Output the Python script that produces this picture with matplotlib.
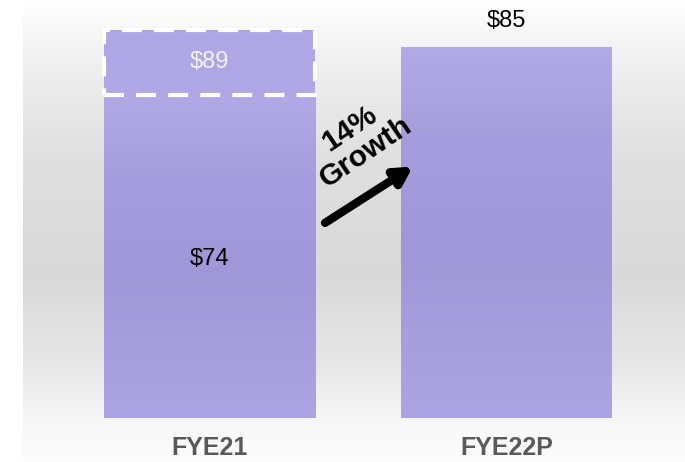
import matplotlib.pyplot as plt
import numpy as np
from matplotlib.colors import LinearSegmentedColormap
from matplotlib.patches import Rectangle

# data
categories = ["FYE21", "FYE22P"]
values = [74, 85]
stretch_value = 89
value_labels = ["$74", "$85"]
stretch_label = "$89"
growth_label = "14%\nGrowth"

plt.rcParams['font.family'] = ['Liberation Sans', 'DejaVu Sans']

fig = plt.figure(figsize=(6.85, 4.62), dpi=100)

# grey gradient backdrop
bg = fig.add_axes([23 / 685, 0, 1 - 23 / 685, 1])
bg.axis("off")
bg_cmap = LinearSegmentedColormap.from_list("bg", [
    (0.0, "#ffffff"), (0.12, "#f1f1f1"), (0.35, "#dfdfdf"),
    (0.6, "#d9d9d9"), (0.8, "#e8e8e8"), (0.92, "#f8f8f8"), (1.0, "#fcfcfc")])
bg.imshow(np.linspace(0, 1, 256).reshape(-1, 1), aspect="auto", cmap=bg_cmap,
          extent=[0, 1, 0, 1], origin="upper")
bg.set_xlim(0, 1)
bg.set_ylim(0, 1)

# main axes, scaled so bars line up with the reference
ax = fig.add_axes([0, 44 / 462, 1, 418 / 462])
ax.patch.set_alpha(0)
ax.set_xlim(-209.5 / 297, (685 - 209.5) / 297)
ax.set_ylim(0, 418 / 4.365)
ax.axis("off")

bar_cmap = LinearSegmentedColormap.from_list("bar", [
    (0.0, "#aca4e3"), (0.45, "#a097d8"), (0.75, "#a69dde"), (1.0, "#b2aae7")])
x = np.arange(len(categories))
bars = ax.bar(x, values, width=211 / 297, color="#a69dde", zorder=2)
for b in bars:
    x0, y0 = b.get_x(), b.get_y()
    grad = ax.imshow(np.linspace(0, 1, 256).reshape(-1, 1), aspect="auto",
                     cmap=bar_cmap, origin="lower", zorder=3,
                     extent=[x0, x0 + b.get_width(), y0, y0 + b.get_height()])
    grad.set_clip_path(b)

# dashed stretch box on FYE21
b0 = bars[0]
box = Rectangle((b0.get_x(), values[0]), b0.get_width(), stretch_value - values[0],
                facecolor="#afa7e5", edgecolor="white", linewidth=3,
                linestyle=(0, (4.8, 2.9)), zorder=4)
ax.add_patch(box)
ax.text(x[0], (values[0] + stretch_value) / 2, stretch_label, ha="center", va="center",
        fontsize=17, color="#f2f2f2", zorder=5)

ax.text(x[0], 36.5, value_labels[0], ha="center", va="center", fontsize=17, color="black", zorder=5)
ax.text(x[1], values[1] + 6, value_labels[1], ha="center", va="center", fontsize=17,
        color="black", zorder=5)

for xi, c in zip(x, categories):
    ax.text(xi, -6.8, c, ha="center", va="center", fontsize=18, fontweight="bold",
            color="#595959", clip_on=False)

# growth arrow
ax.annotate("", xy=(0.685, 57.6), xytext=(0.389, 44.7),
            arrowprops=dict(arrowstyle="-|>,head_width=0.55,head_length=1.0",
                            color="black", lw=6, shrinkA=0, shrinkB=0), zorder=6)
ax.text(0.5, 63.6, growth_label, ha="center", va="center", fontsize=21.5,
        fontweight="bold", rotation=34, linespacing=1.05, zorder=6)

fig.savefig("out.png", dpi=100)
